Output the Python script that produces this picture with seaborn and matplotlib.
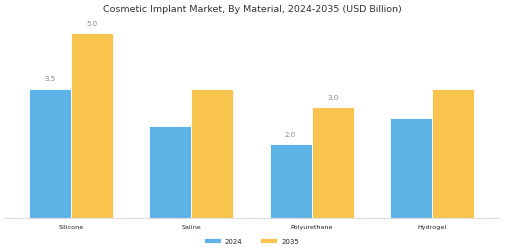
import matplotlib
matplotlib.use("Agg")
import matplotlib.pyplot as plt
import seaborn as sns
import pandas as pd

categories = ["Silicone", "Saline", "Polyurethane", "Hydrogel"]
years = ["2024", "2035"]
values_2024 = [3.5, 2.5, 2.0, 2.7]
values_2035 = [5.0, 3.5, 3.0, 3.5]
labeled = {("Silicone", "2024"), ("Silicone", "2035"),
           ("Polyurethane", "2024"), ("Polyurethane", "2035")}

df = pd.DataFrame({
    "Material": categories * 2,
    "Year": ["2024"] * len(categories) + ["2035"] * len(categories),
    "Value": values_2024 + values_2035,
})

sns.set_style("white")
plt.rcParams["font.family"] = ["DejaVu Sans"]

fig = plt.figure(figsize=(5.05, 2.53), dpi=100)
ax = fig.add_axes([0.01, 0.134, 0.976, 0.803])

palette = {"2024": "#5DB3E6", "2035": "#F9C44D"}
sns.barplot(data=df, x="Material", y="Value", hue="Year", order=categories,
            hue_order=years, palette=palette, width=0.7, ax=ax,
            edgecolor="white", linewidth=0.6, saturation=1)

for container, yr in zip(ax.containers, years):
    for bar, cat in zip(container, categories):
        if (cat, yr) in labeled:
            ax.text(bar.get_x() + bar.get_width() / 2, bar.get_height() + 0.2,
                    f"{bar.get_height():.1f}", ha="center", va="bottom",
                    fontsize=5, color="#888888")

ax.set_xlim(-0.55, 3.55)
ax.set_ylim(0, 5.5)
ax.set_xlabel("")
ax.set_ylabel("")
ax.set_yticks([])
ax.tick_params(axis="x", labelsize=4.6, length=2, width=0.5, color="#cccccc",
               pad=2, labelcolor="#222222")
for s in ["top", "right", "left"]:
    ax.spines[s].set_visible(False)
ax.spines["bottom"].set_color("#dddddd")
ax.spines["bottom"].set_linewidth(0.8)

fig.text(0.5, 1 - 10 / 253, "Cosmetic Implant Market, By Material, 2024-2035 (USD Billion)",
         fontsize=6.8, color="#333333", ha="center", va="center")

ax.legend(loc="center", bbox_to_anchor=(0.5, -0.112), ncol=2, frameon=False,
          fontsize=5, handlelength=2.4, handleheight=0.9, columnspacing=2.6,
          handletextpad=0.6)

fig.savefig("out.png", dpi=100)
